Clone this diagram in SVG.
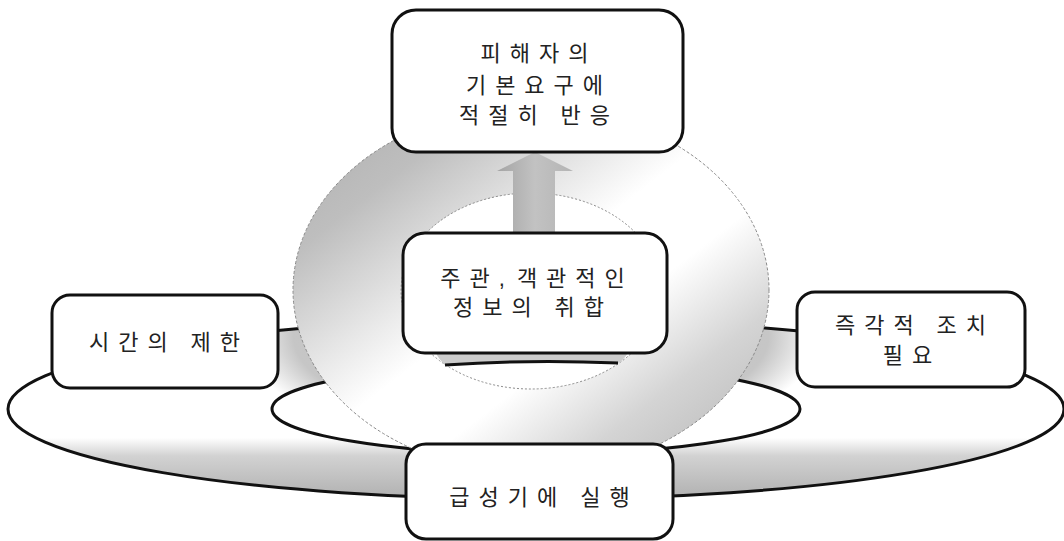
<svg xmlns="http://www.w3.org/2000/svg" width="1064" height="541" viewBox="0 0 1064 541">
  <defs>
    <linearGradient id="ringGrad" x1="0" y1="0" x2="0" y2="1">
      <stop offset="0" stop-color="#ffffff"/>
      <stop offset="0.66" stop-color="#ffffff"/>
      <stop offset="0.76" stop-color="#d2d2d2"/>
      <stop offset="1" stop-color="#b0b0b0"/>
    </linearGradient>
    <radialGradient id="ringShade" cx="531" cy="335" r="290" gradientUnits="userSpaceOnUse" gradientTransform="translate(531 335) scale(1 0.4) translate(-531 -335)">
      <stop offset="0" stop-color="#a0a0a0" stop-opacity="0.7"/>
      <stop offset="0.82" stop-color="#a0a0a0" stop-opacity="0.6"/>
      <stop offset="1" stop-color="#a0a0a0" stop-opacity="0"/>
    </radialGradient>
    <linearGradient id="sphGrad" x1="0" y1="0" x2="1" y2="1">
      <stop offset="0" stop-color="#acacac"/>
      <stop offset="0.2" stop-color="#bebebe"/>
      <stop offset="0.38" stop-color="#e8e8e8"/>
      <stop offset="0.48" stop-color="#ffffff"/>
      <stop offset="0.62" stop-color="#ffffff"/>
      <stop offset="0.78" stop-color="#d4d4d4"/>
      <stop offset="1" stop-color="#b2b2b2"/>
    </linearGradient>
    <linearGradient id="arrowGrad" x1="0" y1="0" x2="1" y2="0">
      <stop offset="0" stop-color="#a4a4a4"/>
      <stop offset="0.5" stop-color="#c2c2c2"/>
      <stop offset="1" stop-color="#b4b4b4"/>
    </linearGradient>
    <clipPath id="ringClip">
      <ellipse cx="536" cy="409" rx="528" ry="90"/>
    </clipPath>
    <style>
      .box { fill: #ffffff; stroke: #111111; stroke-width: 3; }
      .lbl { font-family: "Noto Sans CJK KR", "Noto Sans", sans-serif; font-size: 22px; letter-spacing: 9px; fill: #222222; text-anchor: middle; }
      .punct { font-family: "Liberation Sans", sans-serif; letter-spacing: 3px; }
      .ringline { stroke: #111111; stroke-width: 3; }
    </style>
  </defs>

  <g id="ring">
    <ellipse cx="536" cy="409" rx="528" ry="90" fill="url(#ringGrad)"/>
    <rect x="0" y="200" width="1064" height="341" fill="url(#ringShade)" clip-path="url(#ringClip)"/>
    <ellipse cx="536" cy="409" rx="528" ry="90" fill="none" class="ringline"/>
    <ellipse cx="536" cy="409" rx="264" ry="45" fill="#ffffff" class="ringline"/>
  </g>

  <g id="sphere">
    <ellipse cx="531" cy="290" rx="238" ry="183" fill="url(#sphGrad)" stroke="#8a8a8a" stroke-width="1" stroke-dasharray="3 2"/>
    <ellipse cx="531" cy="291" rx="130" ry="98" fill="#ffffff" stroke="#8a8a8a" stroke-width="1" stroke-dasharray="2 2"/>
    <path d="M 436 353 L 628 353 Q 622 362 618 363 Q 531 359 445 365 Q 438 358 436 353 Z" fill="#cccccc"/>
    <path d="M 445 365 Q 531 359 618 363" fill="none" stroke="#111111" stroke-width="3"/>
  </g>

  <g id="connectors">
    <polygon points="513,233 513,171 497,171 535,152 573,171 555,171 555,233" fill="url(#arrowGrad)"/>
  </g>

  <g id="node-top">
    <rect class="box" x="392" y="10" width="291" height="142" rx="24"/>
    <text class="lbl" x="539" y="61">피해자의</text>
    <text class="lbl" x="539" y="93">기본요구에</text>
    <text class="lbl" x="539" y="123">적절히 반응</text>
  </g>

  <g id="node-center">
    <rect class="box" x="403" y="233" width="264" height="120" rx="22"/>
    <text class="lbl" x="537" y="286">주관<tspan class="punct">, </tspan>객관적인</text>
    <text class="lbl" x="533" y="315">정보의 취합</text>
  </g>

  <g id="node-left">
    <rect class="box" x="52" y="295" width="226" height="93" rx="18"/>
    <text class="lbl" x="169" y="350">시간의 제한</text>
  </g>

  <g id="node-right">
    <rect class="box" x="797" y="292" width="228" height="95" rx="18"/>
    <text class="lbl" x="915" y="333">즉각적 조치</text>
    <text class="lbl" x="912" y="363">필요</text>
  </g>

  <g id="node-bottom">
    <rect class="box" x="406" y="444" width="267" height="95" rx="20"/>
    <text class="lbl" x="544" y="505">급성기에 실행</text>
  </g>
</svg>
